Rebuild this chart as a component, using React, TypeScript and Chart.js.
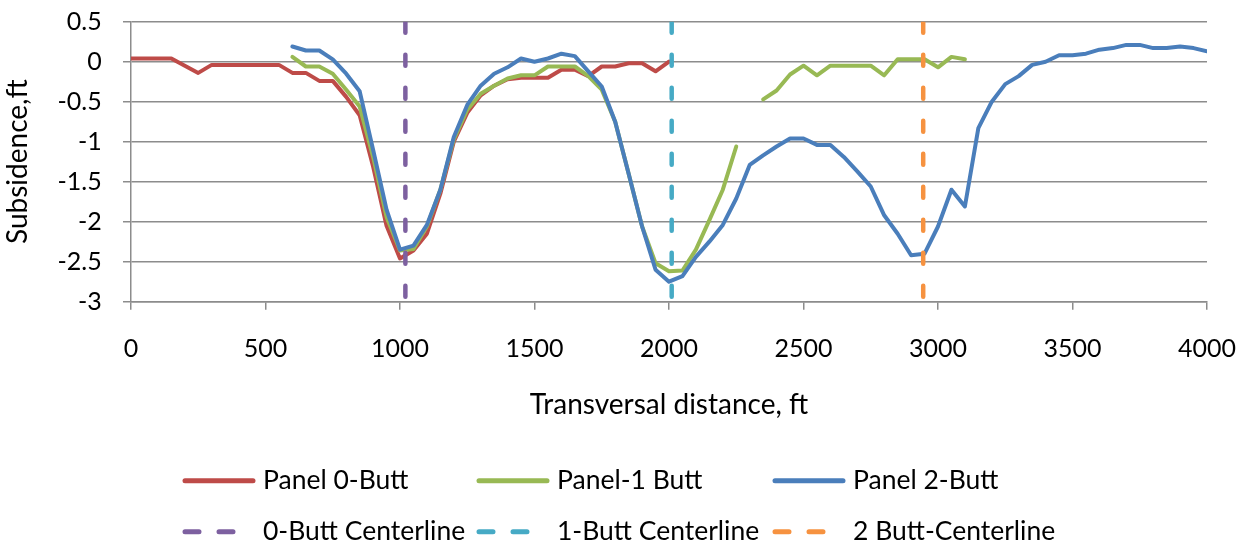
import React, { useEffect, useRef } from "react";
import { Chart, registerables } from "chart.js";

Chart.register(...registerables);

// Transversal distance (ft) of each survey point
const distanceFt = [
  0, 50, 100, 150, 200, 250, 300, 350, 400, 450,
  500, 550, 600, 650, 700, 750, 800, 850, 900, 950,
  1000, 1050, 1100, 1150, 1200, 1250, 1300, 1350, 1400, 1450,
  1500, 1550, 1600, 1650, 1700, 1750, 1800, 1850, 1900, 1950,
  2000, 2050, 2100, 2150, 2200, 2250, 2300, 2350, 2400, 2450,
  2500, 2550, 2600, 2650, 2700, 2750, 2800, 2850, 2900, 2950,
  3000, 3050, 3100, 3150, 3200, 3250, 3300, 3350, 3400, 3450,
  3500, 3550, 3600, 3650, 3700, 3750, 3800, 3850, 3900, 3950,
  4000,
];

// Subsidence (ft)
const panel0Butt = [
  0.04, 0.04, 0.04, 0.04, -0.05, -0.14, -0.04, -0.04, -0.04, -0.04,
  -0.04, -0.04, -0.14, -0.14, -0.24, -0.24, -0.44, -0.67, -1.31, -2.05,
  -2.46, -2.36, -2.15, -1.65, -1.0, -0.64, -0.42, -0.3, -0.22, -0.2,
  -0.2, -0.2, -0.1, -0.1, -0.18, -0.06, -0.06, -0.02, -0.02, -0.12,
  0.0, null, null, null, null, null, null, null, null, null,
  null, null, null, null, null, null, null, null, null, null,
  null, null, null, null, null, null, null, null, null, null,
  null, null, null, null, null, null, null, null, null, null,
  null,
];

const panel1Butt = [
  null, null, null, null, null, null, null, null, null, null,
  null, null, 0.06, -0.06, -0.06, -0.15, -0.35, -0.56, -1.19, -1.94,
  -2.36, -2.34, -2.06, -1.6, -0.97, -0.6, -0.4, -0.3, -0.21, -0.17,
  -0.17, -0.06, -0.06, -0.06, -0.18, -0.35, -0.75, -1.4, -2.06, -2.52,
  -2.62, -2.61, -2.35, -1.98, -1.6, -1.06, null, -0.47, -0.36, -0.16,
  -0.05, -0.17, -0.05, -0.05, -0.05, -0.05, -0.17, 0.03, 0.03, 0.03,
  -0.07, 0.06, 0.03, null, null, null, null, null, null, null,
  null, null, null, null, null, null, null, null, null, null,
  null,
];

const panel2Butt = [
  null, null, null, null, null, null, null, null, null, null,
  null, null, 0.19, 0.14, 0.14, 0.03, -0.15, -0.37, -1.1, -1.85,
  -2.35, -2.3, -2.04, -1.6, -0.94, -0.54, -0.3, -0.15, -0.07, 0.04,
  0.0, 0.04, 0.1, 0.07, -0.12, -0.31, -0.75, -1.4, -2.06, -2.6,
  -2.75, -2.68, -2.44, -2.25, -2.04, -1.71, -1.29, -1.17, -1.06, -0.96,
  -0.96, -1.04, -1.04, -1.19, -1.37, -1.56, -1.92, -2.15, -2.42, -2.4,
  -2.06, -1.6, -1.81, -0.83, -0.5, -0.28, -0.18, -0.04, 0.0, 0.08,
  0.08, 0.1, 0.15, 0.17, 0.21, 0.21, 0.17, 0.17, 0.19, 0.17,
  0.13,
];

// Panel centerline positions (ft)
const centerlineFt = [1020, 2010, 2945];

const seriesNames = ["Panel 0-Butt", "Panel-1 Butt", "Panel 2-Butt"];
const centerlineNames = ["0-Butt Centerline", "1-Butt Centerline", "2 Butt-Centerline"];

const xTicks = [0, 500, 1000, 1500, 2000, 2500, 3000, 3500, 4000];
const yTicks = [0.5, 0, -0.5, -1, -1.5, -2, -2.5, -3];

const seriesColors = ["#BE4B48", "#98B954", "#4A7EBB"];
const centerlineColors = ["#7D60A0", "#46AAC5", "#F69240"];

const FONT = "Lato";
const TICK_SIZE = 25;
const TITLE_SIZE = 28;
const LEGEND_SIZE = 26.5;
const GRID = "#8c8c8c";

const legendPlugin = {
  id: "excelLegend",
  afterDraw(chart: any) {
    const ctx = chart.ctx;
    const cols = [183, 477, 773];
    const rows = [480.7, 531.7];
    ctx.save();
    chart.data.datasets.forEach((ds: any, i: number) => {
      const x = cols[i % 3];
      const y = rows[Math.floor(i / 3)];
      ctx.beginPath();
      ctx.strokeStyle = ds.borderColor;
      ctx.lineWidth = 5;
      ctx.lineCap = "round";
      ctx.setLineDash(ds.borderDash && ds.borderDash.length ? [14, 20] : []);
      ctx.moveTo(x + 2, y);
      ctx.lineTo(x + 70, y);
      ctx.stroke();
      ctx.setLineDash([]);
      ctx.fillStyle = "#000";
      ctx.font = `${LEGEND_SIZE}px ${FONT}`;
      ctx.textBaseline = "middle";
      ctx.textAlign = "left";
      ctx.fillText(ds.label, x + 80, y);
    });
    ctx.restore();
  },
};

const noScalePadding = (s: any) => {
  s.paddingLeft = 0;
  s.paddingRight = 0;
  s.paddingTop = 0;
  s.paddingBottom = 0;
};

export default function App() {
  const canvasRef = useRef<HTMLCanvasElement | null>(null);

  useEffect(() => {
    if (!canvasRef.current) return;
    const yMax = yTicks[0];
    const yMin = yTicks[yTicks.length - 1];

    const seriesData = [panel0Butt, panel1Butt, panel2Butt];
    const lineSets = seriesData.map((vals, i) => ({
      label: seriesNames[i],
      data: distanceFt.map((d, j) => ({ x: d, y: vals[j] })),
      borderColor: seriesColors[i],
      backgroundColor: seriesColors[i],
      borderWidth: 4,
      pointRadius: 0,
      tension: 0,
      spanGaps: false,
      borderJoinStyle: "round" as const,
      borderCapStyle: "round" as const,
      order: 3 - i,
    }));
    const centerSets = centerlineFt.map((c, i) => ({
      label: centerlineNames[i],
      data: [
        { x: c, y: yMax },
        { x: c, y: yMin },
      ],
      borderColor: centerlineColors[i],
      backgroundColor: centerlineColors[i],
      borderWidth: 4.5,
      borderDash: [11, 22],
      borderCapStyle: "round" as const,
      pointRadius: 0,
      order: 0,
    }));

    const chart = new Chart(canvasRef.current, {
      type: "line",
      data: { datasets: [...lineSets, ...centerSets] as any },
      plugins: [legendPlugin],
      options: {
        animation: false,
        responsive: false,
        devicePixelRatio: 1,
        layout: { padding: { left: 0, right: 40, top: 21.7, bottom: 104.3 } },
        plugins: {
          legend: { display: false },
          tooltip: { enabled: false },
        },
        scales: {
          x: {
            type: "linear",
            min: xTicks[0],
            max: xTicks[xTicks.length - 1],
            afterBuildTicks: (s: any) => {
              s.ticks = xTicks.map((v) => ({ value: v }));
            },
            afterFit: (s: any) => {
              s.height = 140;
              noScalePadding(s);
            },
            ticks: {
              callback: (v: any) => String(v),
              font: { family: FONT, size: TICK_SIZE },
              color: "#000",
              padding: 24,
              maxRotation: 0,
              autoSkip: false,
            },
            grid: {
              drawOnChartArea: false,
              drawTicks: true,
              tickLength: 8,
              color: GRID,
              lineWidth: 1.5,
            },
            border: { color: GRID, width: 1.5 },
            title: {
              display: true,
              text: "Transversal distance, ft",
              font: { family: FONT, size: TITLE_SIZE },
              color: "#000",
              padding: { top: 0, bottom: 19.9 },
            },
          },
          y: {
            type: "linear",
            min: yMin,
            max: yMax,
            afterBuildTicks: (s: any) => {
              s.ticks = yTicks.map((v) => ({ value: v }));
            },
            afterFit: (s: any) => {
              s.width = 131;
              noScalePadding(s);
            },
            ticks: {
              callback: (v: any) => String(v),
              font: { family: FONT, size: TICK_SIZE },
              color: "#000",
              padding: 21.3,
            },
            grid: {
              tickLength: 8,
              color: GRID,
              lineWidth: 1.5,
            },
            border: { color: GRID, width: 1.5 },
            title: {
              display: true,
              text: "Subsidence,ft",
              font: { family: FONT, size: TITLE_SIZE },
              color: "#000",
              padding: { top: 0.7, bottom: 0 },
            },
          },
        },
      },
    });
    return () => chart.destroy();
  }, []);

  return (
    <div style={{ position: "absolute", left: 0, top: 0, width: 1247, height: 546 }}>
      <canvas ref={canvasRef} width={1247} height={546} style={{ display: "block" }} />
    </div>
  );
}
